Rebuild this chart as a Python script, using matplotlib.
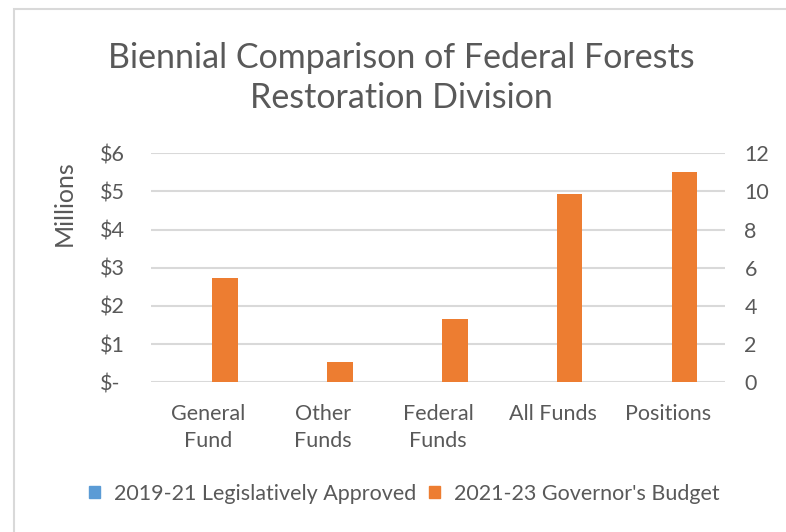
import numpy as np
import matplotlib
matplotlib.use('Agg')
import matplotlib.pyplot as plt
from matplotlib.patches import Patch, Rectangle

plt.rcParams['font.family'] = ['Lato', 'DejaVu Sans']

# Budget figures ($ millions) and position counts
categories = ['General\nFund', 'Other\nFunds', 'Federal\nFunds', 'All Funds', 'Positions']
series_names = ['2019-21 Legislatively Approved', "2021-23 Governor's Budget"]
dollars_1921 = [0, 0, 0, 0]
dollars_2123 = [2.72, 0.52, 1.67, 4.93]
positions_1921 = [0]
positions_2123 = [11]

left_ticks = [0, 1, 2, 3, 4, 5, 6]
left_labels = ['$-', '$1', '$2', '$3', '$4', '$5', '$6']
right_ticks = [0, 2, 4, 6, 8, 10, 12]

blue = '#5B9BD5'
orange = '#ED7D31'
text_col = '#595959'
grid_col = '#D9D9D9'

fig = plt.figure(figsize=(7.86, 5.32), dpi=100)
ax = fig.add_axes([151 / 786, 1 - 382.3 / 532, 574 / 786, 229 / 532])
ax2 = ax.twinx()

width = 0.224
offset = 0.146
x = np.arange(len(categories))
x_money = x[:4]
x_pos = x[4:]

ax.bar(x_money - offset, dollars_1921, width, color=blue)
ax.bar(x_money + offset, dollars_2123, width, color=orange)
ax2.bar(x_pos - offset, positions_1921, width, color=blue)
ax2.bar(x_pos + offset, positions_2123, width, color=orange)

ax.set_xlim(-0.5, len(categories) - 0.5)
ax.set_ylim(0, 6)
ax2.set_ylim(0, 12)

ax.set_yticks(left_ticks)
ax.set_yticklabels(left_labels)
ax2.set_yticks(right_ticks)
ax.set_xticks(x)
ax.set_xticklabels(categories, linespacing=1.45)

ax.yaxis.grid(True, color=grid_col, linewidth=1.5)
ax.set_axisbelow(True)
for a in (ax, ax2):
    for s in a.spines.values():
        s.set_visible(False)
    a.tick_params(length=0, labelsize=15.5, labelcolor=text_col)

ax.tick_params(axis='y', pad=36.5)
for lbl in ax.get_yticklabels():
    lbl.set_horizontalalignment('left')
ax2.tick_params(axis='y', pad=14)
ax.tick_params(axis='x', pad=15.5)

fig.text(64 / 786, 1 - 203 / 532, 'Millions', rotation=90, ha='center', va='center',
         fontsize=18, color=text_col)

fig.text(401 / 786, 1 - 78 / 532, 'Biennial Comparison of Federal Forests\nRestoration Division',
         ha='center', va='center', fontsize=24.5, color=text_col, linespacing=1.3)

handles = [Patch(color=blue, label=series_names[0]), Patch(color=orange, label=series_names[1])]
fig.legend(handles=handles, loc='center', bbox_to_anchor=(404 / 786, 1 - 494 / 532), ncol=2,
           frameon=False, fontsize=15.5, labelcolor=text_col, handlelength=0.5, handleheight=0.5,
           handletextpad=0.65, columnspacing=0.6)

# chart area border
fig.patches.append(Rectangle((14 / 786, -0.05), 1.1, 1 - 9 / 532 + 0.05, transform=fig.transFigure,
                             fill=False, edgecolor=grid_col, linewidth=1.5))

fig.savefig('out.png', dpi=100)
